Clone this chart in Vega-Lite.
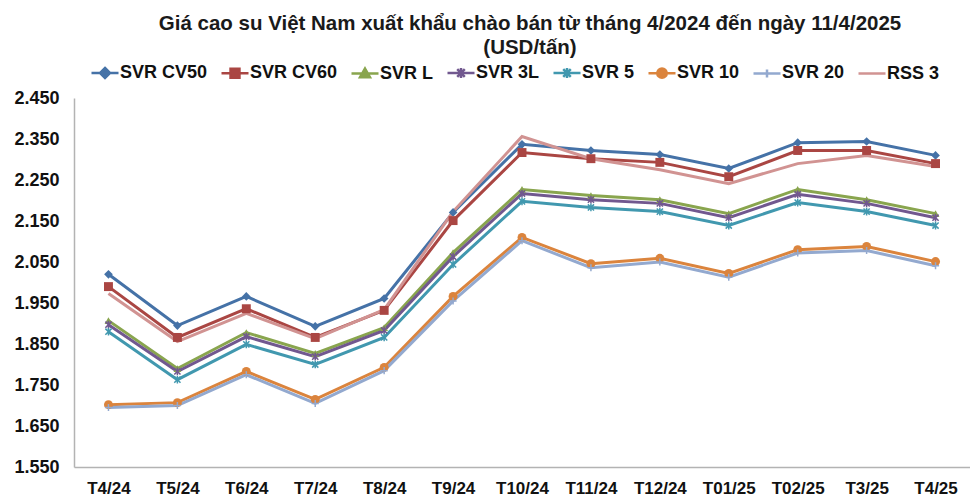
{
  "$schema": "https://vega.github.io/schema/vega-lite/v6.json",
  "width": 896,
  "height": 369,
  "autosize": {"type": "none"},
  "padding": {"left": 74, "top": 98, "right": 0, "bottom": 31},
  "background": "white",
  "title": {
    "text": ["Giá cao su Việt Nam xuất khẩu chào bán từ tháng 4/2024 đến ngày 11/4/2025", "(USD/tấn)"],
    "fontSize": 20.5,
    "font": "Liberation Sans",
    "fontWeight": "bold",
    "color": "#1a1a1a",
    "anchor": "middle",
    "dx": 8,
    "offset": 0,
    "lineHeight": 24
  },
  "config": {"view": {"stroke": null}, "font": "Liberation Sans"},
  "datasets": {
    "d": [
      {"m": "T4/24", "s": "SVR CV50", "v": 2020}, {"m": "T5/24", "s": "SVR CV50", "v": 1895}, {"m": "T6/24", "s": "SVR CV50", "v": 1966}, {"m": "T7/24", "s": "SVR CV50", "v": 1893}, {"m": "T8/24", "s": "SVR CV50", "v": 1961}, {"m": "T9/24", "s": "SVR CV50", "v": 2171}, {"m": "T10/24", "s": "SVR CV50", "v": 2337}, {"m": "T11/24", "s": "SVR CV50", "v": 2322}, {"m": "T12/24", "s": "SVR CV50", "v": 2312}, {"m": "T01/25", "s": "SVR CV50", "v": 2278}, {"m": "T02/25", "s": "SVR CV50", "v": 2341}, {"m": "T3/25", "s": "SVR CV50", "v": 2344}, {"m": "T4/25", "s": "SVR CV50", "v": 2310},
      {"m": "T4/24", "s": "SVR CV60", "v": 1990}, {"m": "T5/24", "s": "SVR CV60", "v": 1866}, {"m": "T6/24", "s": "SVR CV60", "v": 1936}, {"m": "T7/24", "s": "SVR CV60", "v": 1866}, {"m": "T8/24", "s": "SVR CV60", "v": 1932}, {"m": "T9/24", "s": "SVR CV60", "v": 2151}, {"m": "T10/24", "s": "SVR CV60", "v": 2317}, {"m": "T11/24", "s": "SVR CV60", "v": 2302}, {"m": "T12/24", "s": "SVR CV60", "v": 2293}, {"m": "T01/25", "s": "SVR CV60", "v": 2258}, {"m": "T02/25", "s": "SVR CV60", "v": 2322}, {"m": "T3/25", "s": "SVR CV60", "v": 2322}, {"m": "T4/25", "s": "SVR CV60", "v": 2290},
      {"m": "T4/24", "s": "SVR L", "v": 1907}, {"m": "T5/24", "s": "SVR L", "v": 1790}, {"m": "T6/24", "s": "SVR L", "v": 1878}, {"m": "T7/24", "s": "SVR L", "v": 1827}, {"m": "T8/24", "s": "SVR L", "v": 1890}, {"m": "T9/24", "s": "SVR L", "v": 2073}, {"m": "T10/24", "s": "SVR L", "v": 2227}, {"m": "T11/24", "s": "SVR L", "v": 2212}, {"m": "T12/24", "s": "SVR L", "v": 2202}, {"m": "T01/25", "s": "SVR L", "v": 2168}, {"m": "T02/25", "s": "SVR L", "v": 2227}, {"m": "T3/25", "s": "SVR L", "v": 2202}, {"m": "T4/25", "s": "SVR L", "v": 2168},
      {"m": "T4/24", "s": "SVR 3L", "v": 1897}, {"m": "T5/24", "s": "SVR 3L", "v": 1783}, {"m": "T6/24", "s": "SVR 3L", "v": 1868}, {"m": "T7/24", "s": "SVR 3L", "v": 1819}, {"m": "T8/24", "s": "SVR 3L", "v": 1883}, {"m": "T9/24", "s": "SVR 3L", "v": 2063}, {"m": "T10/24", "s": "SVR 3L", "v": 2217}, {"m": "T11/24", "s": "SVR 3L", "v": 2202}, {"m": "T12/24", "s": "SVR 3L", "v": 2193}, {"m": "T01/25", "s": "SVR 3L", "v": 2158}, {"m": "T02/25", "s": "SVR 3L", "v": 2215}, {"m": "T3/25", "s": "SVR 3L", "v": 2193}, {"m": "T4/25", "s": "SVR 3L", "v": 2158},
      {"m": "T4/24", "s": "SVR 5", "v": 1880}, {"m": "T5/24", "s": "SVR 5", "v": 1763}, {"m": "T6/24", "s": "SVR 5", "v": 1849}, {"m": "T7/24", "s": "SVR 5", "v": 1800}, {"m": "T8/24", "s": "SVR 5", "v": 1866}, {"m": "T9/24", "s": "SVR 5", "v": 2044}, {"m": "T10/24", "s": "SVR 5", "v": 2198}, {"m": "T11/24", "s": "SVR 5", "v": 2183}, {"m": "T12/24", "s": "SVR 5", "v": 2173}, {"m": "T01/25", "s": "SVR 5", "v": 2139}, {"m": "T02/25", "s": "SVR 5", "v": 2195}, {"m": "T3/25", "s": "SVR 5", "v": 2173}, {"m": "T4/25", "s": "SVR 5", "v": 2139},
      {"m": "T4/24", "s": "SVR 10", "v": 1702}, {"m": "T5/24", "s": "SVR 10", "v": 1707}, {"m": "T6/24", "s": "SVR 10", "v": 1783}, {"m": "T7/24", "s": "SVR 10", "v": 1715}, {"m": "T8/24", "s": "SVR 10", "v": 1793}, {"m": "T9/24", "s": "SVR 10", "v": 1966}, {"m": "T10/24", "s": "SVR 10", "v": 2110}, {"m": "T11/24", "s": "SVR 10", "v": 2046}, {"m": "T12/24", "s": "SVR 10", "v": 2059}, {"m": "T01/25", "s": "SVR 10", "v": 2022}, {"m": "T02/25", "s": "SVR 10", "v": 2080}, {"m": "T3/25", "s": "SVR 10", "v": 2088}, {"m": "T4/25", "s": "SVR 10", "v": 2051},
      {"m": "T4/24", "s": "SVR 20", "v": 1695}, {"m": "T5/24", "s": "SVR 20", "v": 1700}, {"m": "T6/24", "s": "SVR 20", "v": 1775}, {"m": "T7/24", "s": "SVR 20", "v": 1705}, {"m": "T8/24", "s": "SVR 20", "v": 1785}, {"m": "T9/24", "s": "SVR 20", "v": 1955}, {"m": "T10/24", "s": "SVR 20", "v": 2102}, {"m": "T11/24", "s": "SVR 20", "v": 2036}, {"m": "T12/24", "s": "SVR 20", "v": 2050}, {"m": "T01/25", "s": "SVR 20", "v": 2013}, {"m": "T02/25", "s": "SVR 20", "v": 2072}, {"m": "T3/25", "s": "SVR 20", "v": 2078}, {"m": "T4/25", "s": "SVR 20", "v": 2041},
      {"m": "T4/24", "s": "RSS 3", "v": 1973}, {"m": "T5/24", "s": "RSS 3", "v": 1856}, {"m": "T6/24", "s": "RSS 3", "v": 1925}, {"m": "T7/24", "s": "RSS 3", "v": 1863}, {"m": "T8/24", "s": "RSS 3", "v": 1934}, {"m": "T9/24", "s": "RSS 3", "v": 2173}, {"m": "T10/24", "s": "RSS 3", "v": 2356}, {"m": "T11/24", "s": "RSS 3", "v": 2302}, {"m": "T12/24", "s": "RSS 3", "v": 2275}, {"m": "T01/25", "s": "RSS 3", "v": 2241}, {"m": "T02/25", "s": "RSS 3", "v": 2290}, {"m": "T3/25", "s": "RSS 3", "v": 2310}, {"m": "T4/25", "s": "RSS 3", "v": 2283}
    ]
  },
  "data": {"name": "d"},
  "encoding": {
    "x": {
      "field": "m", "type": "ordinal", "sort": null,
      "scale": {"type": "point", "padding": 0.5},
      "axis": {"title": null, "labelAngle": 0, "ticks": false, "grid": false, "domainColor": "#b3b3b3", "domainWidth": 1.5, "labelFontSize": 17, "labelFontWeight": "bold", "labelColor": "#111111", "labelPadding": 13, "labelFont": "Liberation Sans"}
    },
    "y": {
      "field": "v", "type": "quantitative",
      "scale": {"domain": [1550, 2450], "nice": false, "zero": false},
      "axis": {"title": null, "values": [1550, 1650, 1750, 1850, 1950, 2050, 2150, 2250, 2350, 2450], "labelExpr": "replace(format(datum.value, ',.0f'), ',', '.')", "ticks": false, "grid": false, "domainColor": "#b3b3b3", "domainWidth": 1.5, "labelFontSize": 18, "labelFontWeight": "bold", "labelColor": "#111111", "labelPadding": 15, "labelFont": "Liberation Sans"}
    },
    "color": {
      "field": "s", "type": "nominal",
      "scale": {"domain": ["SVR CV50", "SVR CV60", "SVR L", "SVR 3L", "SVR 5", "SVR 10", "SVR 20", "RSS 3"], "range": ["#4572A7", "#AA4643", "#89A54E", "#71588F", "#4198AF", "#DB843D", "#93A9CF", "#D19392"]},
      "legend": {
        "title": null, "orient": "none", "legendX": 16, "legendY": -40, "direction": "horizontal", "columns": 8,
        "labelFontSize": 18, "labelFontWeight": "bold", "labelColor": "#111111", "labelFont": "Liberation Sans",
        "symbolSize": 729, "symbolStrokeWidth": 2.5, "columnPadding": 8, "labelOffset": 0,
        "encode": {
          "symbols": {
            "update": {
              "shape": {"signal": "datum.value === 'SVR CV50' ? 'M-1,0H1M0,-0.37L0.37,0L0,0.37L-0.37,0Z' : datum.value === 'SVR CV60' ? 'M-1,0H1M-0.33,-0.33H0.33V0.33H-0.33Z' : datum.value === 'SVR L' ? 'M-1,0H1M0,-0.37L0.37,0.28H-0.37Z' : datum.value === 'SVR 3L' ? 'M-1,0H1M-0.28,-0.28L0.28,0.28M-0.28,0.28L0.28,-0.28M0,-0.37V0.37' : datum.value === 'SVR 5' ? 'M-1,0H1M-0.28,-0.28L0.28,0.28M-0.28,0.28L0.28,-0.28M0,-0.37V0.37' : datum.value === 'SVR 10' ? 'M-1,0H1M0.35,0A0.35,0.35,0,1,1,-0.35,0A0.35,0.35,0,1,1,0.35,0Z' : datum.value === 'SVR 20' ? 'M-1,0H1M0,-0.3V0.3' : 'M-1,0H1'"},
              "fill": {"scale": "color", "field": "value"},
              "stroke": {"scale": "color", "field": "value"},
              "strokeWidth": {"value": 2.5},
              "opacity": {"value": 1}
            }
          }
        }
      }
    }
  },
  "layer": [
    {"mark": {"type": "line", "strokeWidth": 3}},
    {"transform": [{"filter": "datum.s === 'SVR CV50'"}], "mark": {"type": "point", "shape": "diamond", "filled": true, "size": 75, "opacity": 1}},
    {"transform": [{"filter": "datum.s === 'SVR CV60'"}], "mark": {"type": "point", "shape": "square", "filled": true, "size": 80, "opacity": 1}},
    {"transform": [{"filter": "datum.s === 'SVR L'"}], "mark": {"type": "point", "shape": "triangle-up", "filled": true, "size": 60, "opacity": 1}},
    {"transform": [{"filter": "datum.s === 'SVR 3L'"}], "mark": {"type": "point", "shape": "M-0.8,-0.8L0.8,0.8M-0.8,0.8L0.8,-0.8M0,-1L0,1", "filled": false, "size": 60, "opacity": 1, "strokeWidth": 1.5}},
    {"transform": [{"filter": "datum.s === 'SVR 5'"}], "mark": {"type": "point", "shape": "M-0.8,-0.8L0.8,0.8M-0.8,0.8L0.8,-0.8M0,-1L0,1", "filled": false, "size": 60, "opacity": 1, "strokeWidth": 1.5}},
    {"transform": [{"filter": "datum.s === 'SVR 10'"}], "mark": {"type": "point", "shape": "circle", "filled": true, "size": 80, "opacity": 1}},
    {"transform": [{"filter": "datum.s === 'SVR 20'"}], "mark": {"type": "point", "shape": "M0,-1L0,1M-1,0L1,0", "filled": false, "size": 50, "opacity": 1, "strokeWidth": 1.5}}
  ]
}
